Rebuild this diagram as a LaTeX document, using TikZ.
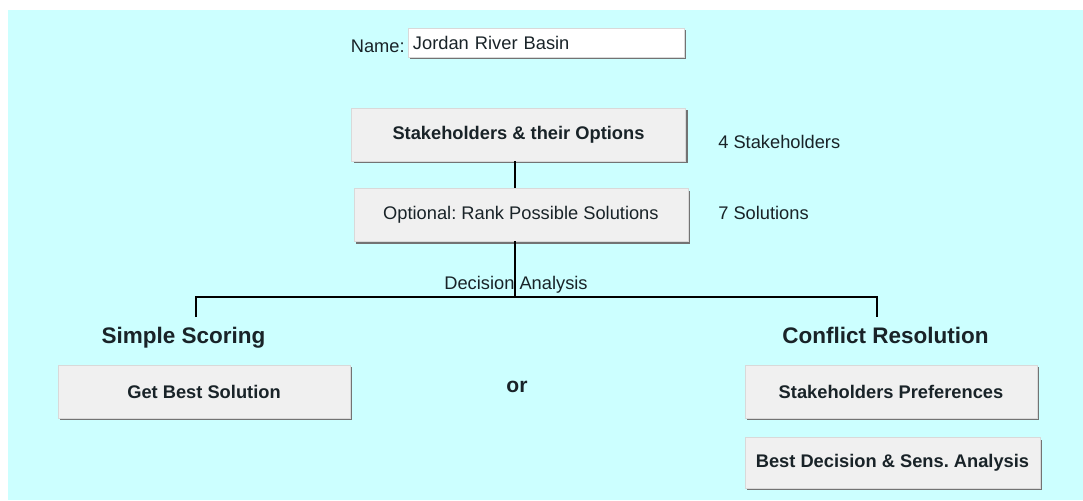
\documentclass[tikz,border=0pt]{standalone}
\usepackage{fontspec}
\setmainfont{Liberation Sans}
\usepackage{tikz}
\usetikzlibrary{positioning,shadows}
\frenchspacing
\definecolor{jrsky}{RGB}{204,255,255}
\definecolor{jrface}{RGB}{240,240,240}
\definecolor{jrshade}{RGB}{115,115,115}
\definecolor{jrink}{RGB}{25,35,40}
\tikzset{
  btn/.style={fill=jrface, draw=white!85!black, line width=0.3pt, text=jrink,
              inner sep=0pt, minimum height=1.32cm, align=center,
              font=\fontsize{13}{15}\selectfont\bfseries,
              drop shadow={shadow xshift=0.06cm, shadow yshift=-0.06cm,
                           opacity=1, fill=jrshade}},
  wide/.style={btn, minimum width=8.35cm},
  half/.style={btn, minimum width=7.3cm},
  plain/.style={font=\fontsize{13}{15}\selectfont, text=jrink, inner sep=0pt},
  head/.style={font=\fontsize{16}{19}\selectfont\bfseries, text=jrink, inner sep=0pt},
  wire/.style={line width=1.6pt, color=black},
}
\begin{document}
\begin{tikzpicture}[x=0.025cm, y=-0.025cm]
\useasboundingbox (0,0) rectangle (1083,500);
\fill[white] (0,0) rectangle (1083,500);
\fill[jrsky] (8,10) rectangle (1083,500);
\node[btn, fill=white, font=\fontsize{13}{15}\selectfont, align=left,
      minimum height=0.72cm, inner xsep=0.125cm, text width=6.65cm] (name) at (546,42.5) {Jordan River Basin};
\node[plain, anchor=east] (namelbl) at (405,46) {Name:};
\node[wide] (sh) at (518.5,134.5) {Stakeholders \& their Options};
\node[wide, font=\fontsize{13}{15}\selectfont, below=0.675cm of sh, xshift=0.06cm] (opt) {Optional: Rank Possible Solutions};
\node[plain, anchor=west] (nsh) at (718,142) {4 Stakeholders};
\node[plain, anchor=west] (nsol) at (718,213) {7 Solutions};
\node[plain] (da) at (516,285) {Decision Analysis};
\coordinate (split) at (515,297);
\coordinate (ssdrop) at (196,317);
\coordinate (crdrop) at (877,317);
\node[head, anchor=base] (ss) at (183.5,343) {Simple Scoring};
\node[head, anchor=base] (cr) at (885.5,343) {Conflict Resolution};
\node[half] (gbs) at (204,391.5) {Get Best Solution};
\node[head, font=\fontsize{15}{18}\selectfont\bfseries] (or) at (517,387) {or};
\node[half] (sp) at (891,391.5) {Stakeholders Preferences};
\node[half, minimum width=7.37cm, minimum height=1.27cm] (bd) at (892.5,462.5) {Best Decision \& Sens. Analysis};
\draw[wire] (sh.south -| split) -- (opt.north -| split);
\draw[wire] (opt.south -| split) -- (split);
\draw[wire] (ssdrop) |- (split) -| (crdrop);
\end{tikzpicture}
\end{document}
